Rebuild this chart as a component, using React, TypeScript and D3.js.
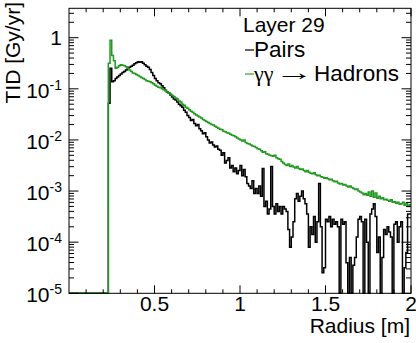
import React from 'react';
import * as d3 from 'd3';

// Histogram binning (Radius in m)
const binStart = 0.23;
const binWidth = 0.01;
const xDomain = [0, 2];
const yDomain = [1e-5, 3.76];

const xTickValues = [0.5, 1, 1.5, 2];
const xTickLabels = ['0.5', '1', '1.5', '2'];
const yDecadeExponents = [0, -1, -2, -3, -4, -5];

const legendTitle = 'Layer 29';
const seriesNames = ['Pairs', 'γγ', '→', 'Hadrons'];
const seriesColors = ['#000000', '#1f9a1f'];

// log10 of TID [Gy/yr] per 0.01 m bin, starting at 0.23 m (null = empty bin)
const pairsLog10: (number | null)[] = [
  -1.28, -0.60, -0.86, -0.84, -0.80, -0.77, -0.74,
  -0.71, -0.68, -0.66, -0.63, -0.60, -0.58, -0.56, -0.54, -0.51, -0.49,
  -0.47, -0.48, -0.47, -0.50, -0.53, -0.56, -0.58, -0.62, -0.68, -0.74,
  -0.80, -0.84, -0.88, -0.90, -0.94, -0.98, -1.03, -1.06, -1.08, -1.12,
  -1.16, -1.20, -1.22, -1.26, -1.30, -1.33, -1.36, -1.42, -1.46, -1.52,
  -1.56, -1.62, -1.60, -1.68, -1.72, -1.70, -1.78, -1.82, -1.88, -1.86,
  -1.94, -2.00, -2.06, -2.04, -2.10, -2.14, -2.12, -2.18, -2.20, -2.30,
  -2.25, -2.45, -2.40, -2.35, -2.55, -2.50, -2.62, -2.55, -2.66, -2.60,
  -2.50, -2.70, -2.58, -2.72, -2.85, -2.90, -2.95, -2.80, -3.05, -2.95,
  -3.05, -2.90, -3.10, -2.56, -3.30, -3.20, -3.45, -3.35, -2.52, -3.30,
  -3.45, -3.25, -3.40, -3.30, -3.45, -3.30, -3.35, -3.40, -3.75, -4.10,
  -3.90, -3.60, -3.15, -3.05, -3.20, -3.10, -3.00, -3.15, -3.25, -3.45,
  -4.10, -3.70, -3.85, -3.50, -4.00, -3.60, -2.85, -3.70, -4.60, -4.50,
  -3.55, -3.60, -3.50, -3.70, -3.55, -3.65, -3.60, -3.70, null, -3.55,
  -3.65, -3.60, -4.40, null, -4.30, null, -4.45, -4.30, -3.90, -3.55,
  -3.50, -3.60, null, -3.55, -4.00, null, -3.45, -3.35, -3.25, -3.50,
  -4.20, -3.90, null, -4.30, -3.75, -3.85, -3.70, -3.80, -3.90, null,
  -3.65, -3.60, -4.00, -3.70, -3.60, null, -4.50, -4.20, -3.45, -3.45,
];

const hadronsLog10: (number | null)[] = [
  -0.50, -0.05, -0.35, -0.45, -0.60, -0.58, -0.55,
  -0.53, -0.54, -0.55, -0.57, -0.60, -0.63, -0.66, -0.69, -0.70, -0.72,
  -0.74, -0.76, -0.78, -0.80, -0.82, -0.84, -0.85, -0.86, -0.88, -0.90,
  -0.93, -0.95, -0.97, -0.98, -1.00, -1.02, -1.04, -1.06, -1.08, -1.10,
  -1.13, -1.15, -1.18, -1.20, -1.24, -1.26, -1.30, -1.32, -1.36, -1.38,
  -1.41, -1.44, -1.46, -1.49, -1.51, -1.53, -1.55, -1.57, -1.60, -1.62,
  -1.64, -1.66, -1.68, -1.70, -1.71, -1.73, -1.75, -1.77, -1.79, -1.80,
  -1.83, -1.84, -1.86, -1.87, -1.89, -1.91, -1.92, -1.94, -1.96, -1.98,
  -2.00, -2.02, -2.00, -2.05, -2.07, -2.08, -2.10, -2.12, -2.13, -2.15,
  -2.17, -2.18, -2.21, -2.24, -2.23, -2.27, -2.28, -2.30, -2.31, -2.32,
  -2.30, -2.35, -2.37, -2.38, -2.42, -2.45, -2.48, -2.50, -2.47, -2.52,
  -2.50, -2.53, -2.55, -2.52, -2.56, -2.58, -2.57, -2.60, -2.62, -2.60,
  -2.63, -2.65, -2.66, -2.64, -2.68, -2.70, -2.69, -2.72, -2.73, -2.75,
  -2.74, -2.76, -2.78, -2.77, -2.80, -2.82, -2.81, -2.84, -2.86, -2.85,
  -2.88, -2.87, -2.90, -2.92, -2.90, -2.93, -2.95, -2.97, -2.96, -3.00,
  -3.02, -3.04, -3.07, -3.05, -3.08, -3.02, -3.10, -3.00, -3.12, -3.04,
  -3.14, -3.10, -3.15, -3.13, -3.17, -3.16, -3.18, -3.20, -3.17, -3.22,
  -3.21, -3.24, -3.22, -3.26, -3.25, -3.22, -3.28, -3.24, -3.30, -3.27,
];

const FONT = '"Liberation Sans", Arial, Helvetica, sans-serif';

export default function App() {
  const W = 416, H = 343;
  const left = 69, right = 411, top = 8.3, bottom = 293.3;
  const x = d3.scaleLinear().domain(xDomain).range([left, right]);
  const y = d3.scaleLog().domain(yDomain).range([bottom, top]);

  const histPath = (logs: (number | null)[]) => {
    let d = `M${x(xDomain[0])},${bottom}H${x(binStart)}`;
    logs.forEach((e, i) => {
      const v = e === null ? 0 : Math.pow(10, e);
      const yy = v > 0 ? Math.min(bottom, y(v)) : bottom;
      d += `V${yy}H${x(binStart + (i + 1) * binWidth)}`;
    });
    return d;
  };

  const xMinor = d3.range(1, 20).map(i => i / 10).filter(v => Math.abs(v * 2 - Math.round(v * 2)) > 1e-6);
  const yMinor: number[] = [];
  for (let k = -5; k <= 0; k++) {
    for (let m = 2; m <= 9; m++) {
      const v = m * Math.pow(10, k);
      if (v <= yDomain[1]) yMinor.push(v);
    }
  }
  const xMajLen = 8, xMinLen = 4, yMajLen = 9.5, yMinLen = 5;

  const series = [pairsLog10, hadronsLog10];

  return (
    <svg width={W} height={H} style={{ position: 'absolute', left: 0, top: 0, background: '#fff' }} fontFamily={FONT}>
      <rect x={0} y={0} width={W} height={H} fill="#fff" />
      <defs>
        <clipPath id="plotclip">
          <rect x={left} y={top} width={right - left} height={bottom - top + 1} />
        </clipPath>
      </defs>
      <g clipPath="url(#plotclip)">
        {series.map((s, i) => (
          <path key={i} d={histPath(s)} fill="none" stroke={seriesColors[i]} strokeWidth={1.5} />
        ))}
      </g>
      {/* frame */}
      <rect x={left} y={top} width={right - left} height={bottom - top} fill="none" stroke="#000" strokeWidth={1} />
      {/* x ticks */}
      {xTickValues.map(v => (
        <g key={'xm' + v}>
          <line x1={x(v)} x2={x(v)} y1={bottom} y2={bottom - xMajLen} stroke="#000" />
          <line x1={x(v)} x2={x(v)} y1={top} y2={top + xMajLen} stroke="#000" />
        </g>
      ))}
      {xMinor.map(v => (
        <g key={'xn' + v}>
          <line x1={x(v)} x2={x(v)} y1={bottom} y2={bottom - xMinLen} stroke="#000" />
          <line x1={x(v)} x2={x(v)} y1={top} y2={top + xMinLen} stroke="#000" />
        </g>
      ))}
      {xTickValues.map((v, i) => (
        <text key={'xl' + v} x={x(v)} y={311} textAnchor="middle" fontSize={21}>{xTickLabels[i]}</text>
      ))}
      {/* y ticks */}
      {yDecadeExponents.map(e => (
        <g key={'ym' + e}>
          <line x1={left} x2={left + yMajLen} y1={y(Math.pow(10, e))} y2={y(Math.pow(10, e))} stroke="#000" />
          <line x1={right} x2={right - yMajLen} y1={y(Math.pow(10, e))} y2={y(Math.pow(10, e))} stroke="#000" />
        </g>
      ))}
      {yMinor.map((v, i) => (
        <g key={'yn' + i}>
          <line x1={left} x2={left + yMinLen} y1={y(v)} y2={y(v)} stroke="#000" />
          <line x1={right} x2={right - yMinLen} y1={y(v)} y2={y(v)} stroke="#000" />
        </g>
      ))}
      {yDecadeExponents.map(e => (
        e === 0 ? (
          <text key={'yl' + e} x={62} y={y(1) + 7.5} textAnchor="end" fontSize={21}>1</text>
        ) : (
          <text key={'yl' + e} x={62} y={y(Math.pow(10, e)) + 9} textAnchor="end" fontSize={21}>
            10<tspan dy={-8} fontSize={14}>{String(e)}</tspan>
          </text>
        )
      ))}
      {/* axis titles */}
      <text x={410} y={333} textAnchor="end" fontSize={21}>Radius [m]</text>
      <text transform="translate(20,2) rotate(-90)" textAnchor="end" fontSize={21}>TID [Gy/yr]</text>
      {/* legend */}
      <text x={243} y={32} fontSize={21}>{legendTitle}</text>
      <line x1={245} x2={254} y1={50} y2={50} stroke={seriesColors[0]} strokeWidth={1.2} />
      <text x={254} y={57} fontSize={22.5}>{seriesNames[0]}</text>
      <line x1={245} x2={254} y1={74} y2={74} stroke={seriesColors[1]} strokeWidth={1.5} opacity={0.75} />
      <text x={254} y={81} fontSize={22} fontFamily='"Liberation Serif", serif'>{seriesNames[1]}</text>
      <text transform="translate(275,80) scale(1.7,1)" fontSize={23}>{seriesNames[2]}</text>
      <text x={399} y={81} fontSize={22.5} textAnchor="end">{seriesNames[3]}</text>
    </svg>
  );
}
